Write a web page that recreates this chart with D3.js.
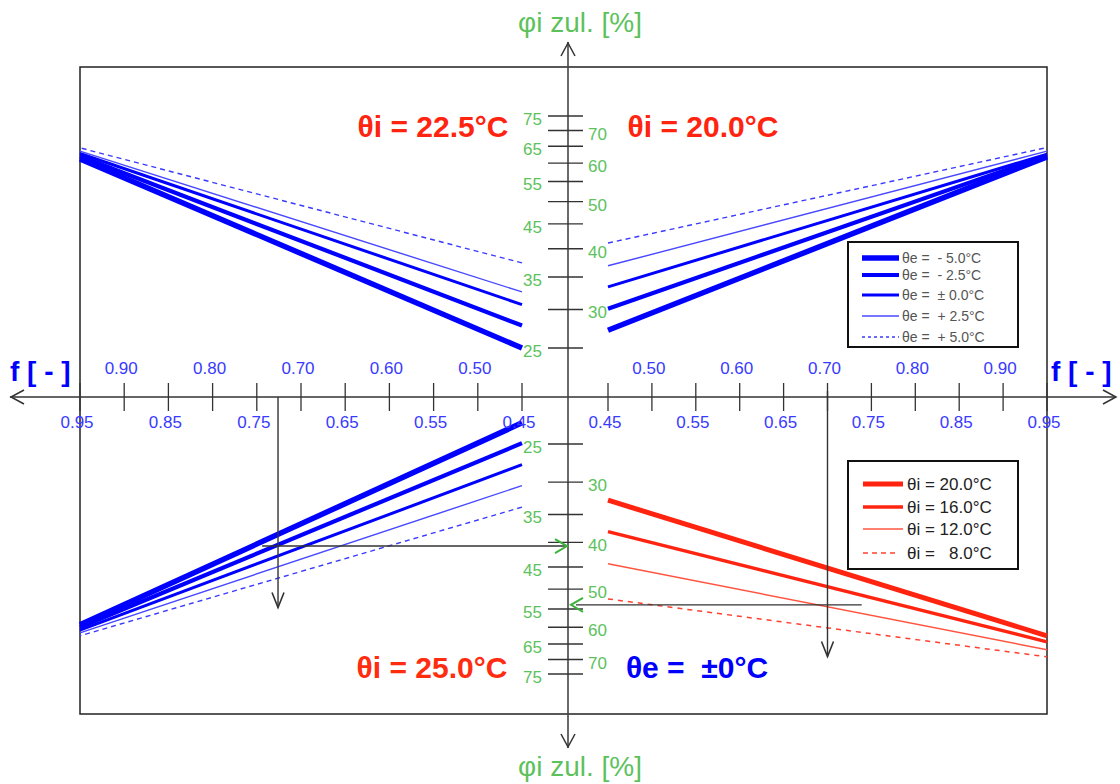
<!DOCTYPE html>
<html>
<head>
<meta charset="utf-8">
<script src="https://cdn.jsdelivr.net/npm/d3@7"></script>
<style>
  body { margin: 0; background: #fff; }
  text { font-family: "Liberation Sans", Arial, sans-serif; white-space: pre; }
</style>
</head>
<body>
<svg id="chart" width="1120" height="784"></svg>
<script>
// ---- data ---------------------------------------------------------------
// humidity factor f on the horizontal axis (both halves)
const fTicks = [0.45, 0.50, 0.55, 0.60, 0.65, 0.70, 0.75, 0.80, 0.85, 0.90, 0.95];
// permissible indoor humidity φi zul. [%] (log-spaced ticks)
const phiTicks = [25, 30, 35, 40, 45, 50, 55, 60, 65, 70, 75];
// f at the ends of each line
const fEnds = [0.45, 0.95];

const thetaELabels = ["θe =  - 5.0°C", "θe =  - 2.5°C", "θe =  ± 0.0°C", "θe =  + 2.5°C", "θe =  + 5.0°C"];
const thetaILabels = ["θi = 20.0°C", "θi = 16.0°C", "θi = 12.0°C", "θi =   8.0°C"];

// φi zul. at f = 0.45 and f = 0.95, one pair per θe (-5, -2.5, 0, +2.5, +5 °C)
const phiTopRight   = [[27.2, 61.8], [30.1, 62.2], [33.4, 62.6], [36.9, 63.5], [41.1, 64.6]]; // θi = 20.0 °C
const phiTopLeft    = [[25.0, 61.2], [27.8, 62.0], [30.7, 62.8], [32.6, 63.5], [37.4, 64.5]]; // θi = 22.5 °C
const phiBottomLeft = [[22.6, 59.3], [24.9, 60.0], [27.6, 60.8], [30.5, 61.6], [33.8, 62.5]]; // θi = 25.0 °C
// φi zul. at f = 0.45 and f = 0.95, one pair per θi (20, 16, 12, 8 °C), θe = ±0 °C
const phiBottomRight = [[32.7, 62.5], [38.0, 64.3], [44.3, 66.8], [52.4, 69.1]];

// worked reading examples: f read down, φ read across to the scale
const exampleLeft  = { f: 0.726, phi: 40.7, fLineEnd: 0.744, phiArrow: 54.6 };
const exampleRight = { f: 0.70,  phi: 53.9, fLineEnd: 0.739, phiArrow: 69.0 };

// ---- scales -------------------------------------------------------------
const svg = d3.select("#chart");
const axisX = 568, axisY = 397;

const xRight = d3.scaleLinear().domain([0.45, 0.95]).range([608, 1047]);
const xLeft  = d3.scaleLinear().domain([0.45, 0.95]).range([522, 80]);
const yTop   = d3.scaleLog().domain([25, 75]).range([348, 116]);
const yBot   = d3.scaleLog().domain([25, 75]).range([444, 674]);

const blue = "#0000ff", red = "#ff2410", green = "#5cc25c", axisCol = "#333";

// frame
svg.append("rect").attr("x", 80).attr("y", 67).attr("width", 967).attr("height", 647)
  .attr("fill", "none").attr("stroke", "#222").attr("stroke-width", 1.5);

// ---- series lines -------------------------------------------------------
const eWidths = [5.5, 4.2, 3, 1.4, 1.4];
const eColors = [blue, blue, blue, "#4848ff", "#3a3aff"];
const eDash   = [null, null, null, null, "5,4"];
const iWidths = [5, 3.4, 1.5, 1.5];
const iColors = [red, red, "#ff5540", "#ff4030"];
const iDash   = [null, null, null, "5,5"];

function drawSet(values, xs, ys, widths, colors, dashes) {
  const line = d3.line().x(d => xs(d[0])).y(d => ys(d[1]));
  values.forEach((pair, i) => {
    const pts = fEnds.map((f, k) => [f, pair[k]]);
    svg.append("path").attr("d", line(pts)).attr("fill", "none")
      .attr("stroke", colors[i]).attr("stroke-width", widths[i])
      .attr("stroke-dasharray", dashes[i]).attr("stroke-linecap", "butt");
  });
}
drawSet(phiTopRight, xRight, yTop, eWidths, eColors, eDash);
drawSet(phiTopLeft, xLeft, yTop, eWidths, eColors, eDash);
drawSet(phiBottomLeft, xLeft, yBot, eWidths, eColors, eDash);
drawSet(phiBottomRight, xRight, yBot, iWidths, iColors, iDash);

// ---- horizontal f axis --------------------------------------------------
svg.append("line").attr("x1", 10).attr("x2", 1116).attr("y1", axisY).attr("y2", axisY)
  .attr("stroke", axisCol).attr("stroke-width", 1.5);
svg.append("path").attr("d", `M24,390 L11,${axisY} L24,404`).attr("fill", "none")
  .attr("stroke", axisCol).attr("stroke-width", 1.5);
svg.append("path").attr("d", `M1103,390 L1116,${axisY} L1103,404`).attr("fill", "none")
  .attr("stroke", axisCol).attr("stroke-width", 1.5);

const fmt = d3.format(".2f");
[xLeft, xRight].forEach(xs => {
  const g = svg.append("g");
  g.selectAll("line").data(fTicks).join("line")
    .attr("x1", d => xs(d)).attr("x2", d => xs(d)).attr("y1", 383).attr("y2", 411)
    .attr("stroke", axisCol).attr("stroke-width", 1.3);
  g.selectAll("text").data(fTicks).join("text")
    .attr("x", d => xs(d) - 3)
    .attr("y", d => Math.round(d * 100) % 10 === 0 ? 374 : 428)
    .attr("text-anchor", "middle").attr("font-size", 17).attr("fill", "#3a3aff")
    .text(d => fmt(d));
});

// ---- vertical φi axis ---------------------------------------------------
svg.append("line").attr("x1", axisX).attr("x2", axisX).attr("y1", 42).attr("y2", 748)
  .attr("stroke", "#444").attr("stroke-width", 1.6);
svg.append("path").attr("d", `M561,56 L${axisX},43 L575,56`).attr("fill", "none")
  .attr("stroke", axisCol).attr("stroke-width", 1.5);
svg.append("path").attr("d", `M561,734 L${axisX},747 L575,734`).attr("fill", "none")
  .attr("stroke", axisCol).attr("stroke-width", 1.5);

[yTop, yBot].forEach(ys => {
  const g = svg.append("g");
  g.selectAll("line").data(phiTicks).join("line")
    .attr("x1", 548).attr("x2", 583).attr("y1", d => ys(d)).attr("y2", d => ys(d))
    .attr("stroke", axisCol).attr("stroke-width", 1.4);
  g.selectAll("text").data(phiTicks).join("text")
    .attr("x", d => d % 10 === 0 ? 588 : 542)
    .attr("y", d => ys(d) + 3).attr("dy", "0.35em")
    .attr("text-anchor", d => d % 10 === 0 ? "start" : "end")
    .attr("font-size", 17).attr("fill", green)
    .text(d => d);
});

// ---- reading examples ---------------------------------------------------
function vArrow(x, y0, y1) {
  svg.append("line").attr("x1", x).attr("x2", x).attr("y1", y0).attr("y2", y1)
    .attr("stroke", axisCol).attr("stroke-width", 1.4);
  svg.append("path").attr("d", `M${x - 6},${y1 - 15} L${x},${y1} L${x + 6},${y1 - 15}`)
    .attr("fill", "none").attr("stroke", axisCol).attr("stroke-width", 1.6);
}
vArrow(xLeft(exampleLeft.f), axisY, yBot(exampleLeft.phiArrow));
vArrow(xRight(exampleRight.f), axisY - 6, yBot(exampleRight.phiArrow));

const yL = yBot(exampleLeft.phi), yR = yBot(exampleRight.phi);
svg.append("line").attr("x1", xLeft(exampleLeft.fLineEnd)).attr("x2", axisX - 2)
  .attr("y1", yL).attr("y2", yL).attr("stroke", axisCol).attr("stroke-width", 1.4);
svg.append("path").attr("d", `M${axisX - 13},${yL - 7} L${axisX - 1},${yL} L${axisX - 13},${yL + 7}`)
  .attr("fill", "none").attr("stroke", "#3cb43c").attr("stroke-width", 2);
svg.append("line").attr("x1", axisX + 8).attr("x2", xRight(exampleRight.fLineEnd))
  .attr("y1", yR).attr("y2", yR).attr("stroke", axisCol).attr("stroke-width", 1.4);
svg.append("path").attr("d", `M${axisX + 15},${yR - 7} L${axisX + 3},${yR} L${axisX + 15},${yR + 7}`)
  .attr("fill", "none").attr("stroke", "#3cb43c").attr("stroke-width", 2);

// ---- legends ------------------------------------------------------------
const lg1 = svg.append("g");
lg1.append("rect").attr("x", 848).attr("y", 242).attr("width", 170).attr("height", 105)
  .attr("fill", "#fff").attr("stroke", "#111").attr("stroke-width", 2);
const rows1 = [258, 275, 295, 316, 337];
thetaELabels.forEach((t, i) => {
  lg1.append("line").attr("x1", 862).attr("x2", 899).attr("y1", rows1[i]).attr("y2", rows1[i])
    .attr("stroke", eColors[i]).attr("stroke-width", eWidths[i]).attr("stroke-dasharray", eDash[i] ? "3,3" : null);
  lg1.append("text").attr("x", 902).attr("y", rows1[i]).attr("dy", "0.35em")
    .attr("font-size", 14).attr("fill", "#555").text(t);
});

const lg2 = svg.append("g");
lg2.append("rect").attr("x", 848).attr("y", 461).attr("width", 170).attr("height", 108)
  .attr("fill", "#fff").attr("stroke", "#111").attr("stroke-width", 2);
const rows2 = [484, 507, 529, 553];
thetaILabels.forEach((t, i) => {
  lg2.append("line").attr("x1", 863).attr("x2", i === 3 ? 897 : 903).attr("y1", rows2[i]).attr("y2", rows2[i])
    .attr("stroke", iColors[i]).attr("stroke-width", iWidths[i]).attr("stroke-dasharray", iDash[i] ? "5,4" : null);
  lg2.append("text").attr("x", 907).attr("y", rows2[i]).attr("dy", "0.35em")
    .attr("font-size", 17).attr("fill", "#222").text(t);
});

// ---- quadrant titles and axis names -------------------------------------
const big = [
  { t: "θi = 22.5°C", x: 433, y: 137, c: red },
  { t: "θi = 20.0°C", x: 703, y: 137, c: red },
  { t: "θi = 25.0°C", x: 432, y: 678, c: "#ff2c10" },
  { t: "θe =  ±0°C",  x: 697, y: 678, c: blue }
];
big.forEach(b => svg.append("text").attr("x", b.x).attr("y", b.y).attr("text-anchor", "middle")
  .attr("font-size", 30).attr("font-weight", "bold").attr("fill", b.c).text(b.t));

svg.append("text").attr("x", 10).attr("y", 381).attr("font-size", 28).attr("font-weight", "bold")
  .attr("fill", blue).text("f [ - ]");
svg.append("text").attr("x", 1051).attr("y", 381).attr("font-size", 28).attr("font-weight", "bold")
  .attr("fill", blue).text("f [ - ]");
svg.append("text").attr("x", 580).attr("y", 32).attr("text-anchor", "middle").attr("font-size", 28)
  .attr("fill", green).text("φi zul. [%]");
svg.append("text").attr("x", 580).attr("y", 776).attr("text-anchor", "middle").attr("font-size", 28)
  .attr("fill", green).text("φi zul. [%]");
</script>
</body>
</html>
